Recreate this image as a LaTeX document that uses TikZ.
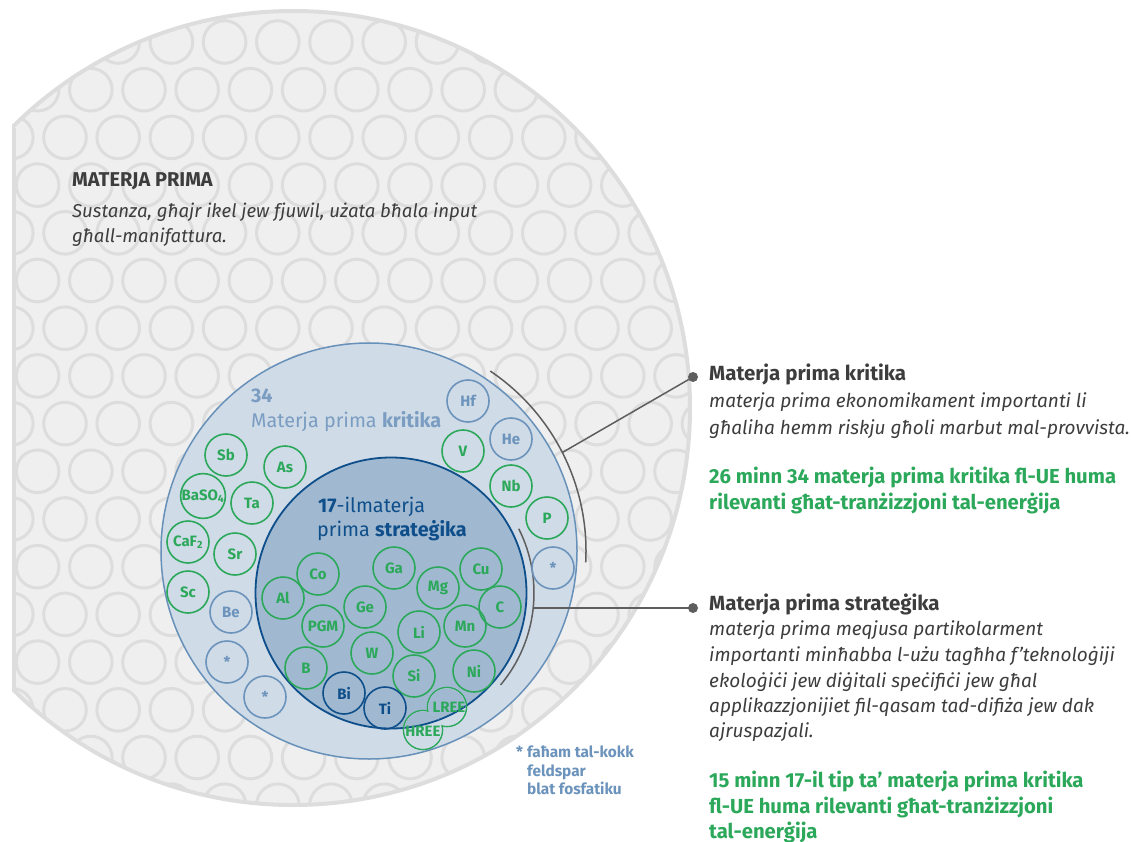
\documentclass[tikz,border=0pt]{standalone}
\usepackage{fontspec}
\setmainfont{Fira Sans}
\usetikzlibrary{calc}
\definecolor{bgfill}{HTML}{EFEFEF}
\definecolor{bgline}{HTML}{DDDDDD}
\definecolor{critfill}{HTML}{CFDBE7}
\definecolor{critline}{HTML}{6891BA}
\definecolor{critlabel}{HTML}{7B9DC2}
\definecolor{stratfill}{HTML}{A0B9D0}
\definecolor{stratline}{HTML}{0E4E8A}
\definecolor{grn}{HTML}{2CA85B}
\definecolor{bluel}{HTML}{6B93BB}
\definecolor{dblue}{HTML}{0E4E8A}
\definecolor{lead}{HTML}{5E5E5E}
\definecolor{txt}{HTML}{3D3D3D}
\tikzset{
  patc/.style={draw=bgline, line width=3pt},
  elem/.style={circle, draw=#1, text=#1, line width=1.6pt, minimum size=42pt, inner sep=0pt,
    font=\bfseries\fontsize{15}{15}\selectfont},
  leader/.style={draw=lead, line width=1.5pt},
  dotn/.style={circle, fill=lead, minimum size=10pt, inner sep=0pt},
  lbl/.style={anchor=base west, inner sep=0pt},
  ttl/.style={lbl, text=txt, font=\bfseries\fontsize{20.5}{20.5}\selectfont},
  body/.style={lbl, text=txt, font=\itshape\fontsize{19}{19}\selectfont},
  gtxt/.style={lbl, text=grn, font=\bfseries\fontsize{20.3}{20.3}\selectfont},
  foot/.style={lbl, text=bluel, font=\bfseries\fontsize{15.4}{15.4}\selectfont},
  inlbl/.style={lbl, font=\fontsize{19.8}{19.8}\selectfont},
}
\begin{document}
\begin{tikzpicture}[x=1pt,y=-1pt]
\useasboundingbox (0,0) rectangle (1131,842);
% big raw-material circle with pattern
\coordinate (bc) at (293,408);
\begin{scope}
  \clip (12,0) rectangle (1131,842);
  \clip (bc) circle (397);
  \fill[bgfill] (0,0) rectangle (1131,842);
  \foreach \k in {0,...,16}{
    \foreach \j in {-1,...,14}{
      \pgfmathsetmacro\px{ifthenelse(mod(\k,2)==0,11.8,37.6)+53.2*\j}
      \pgfmathsetmacro\py{42+47.7*\k}
      \draw[patc] (\px,\py) circle (21.3);
    }
  }
\end{scope}
\begin{scope}
  \clip (12,0) rectangle (1131,842);
  \draw[bgline, line width=4pt] (bc) circle (397);
\end{scope}
\draw[bgline, line width=4pt] (14,127.6) -- (14,688.4);

% critical and strategic circles
\coordinate (cc) at (369,551);
\coordinate (sc) at (391,593);
\draw[critline, fill=critfill, line width=1.5pt] (cc) circle (208);
\draw[stratline, fill=stratfill, line width=1.8pt] (sc) circle (135.5);

% leaders
\draw[leader] (cc) ++(-56:217) arc[start angle=-56, end angle=3, radius=217];
\draw[leader] (sc) ++(-26.7:143) arc[start angle=-26.7, end angle=40, radius=143];
\coordinate (ca) at ($(cc)+(-27:217)$);
\coordinate (sa) at (533.2,608);
\node[dotn] (d1) at (693,377) {};
\node[dotn] (d2) at (693,608) {};
\draw[leader] (ca) -- (d1.center);
\draw[leader] (sa) -- (d2.center);

% labels inside circles
\node[inlbl, text=critlabel] (n34) at (251,402) {\textbf{34}};
\node[inlbl, text=critlabel] (ncrit) at (251,427) {Materja prima \textbf{kritika}};
\node[inlbl, text=dblue] (n17) at (318,512) {\textbf{17}-ilmaterja};
\node[inlbl, text=dblue] (nstrat) at (317,536) {prima \textbf{strateġika}};

% critical ring elements
\node[elem=grn] (Sb) at (226,455) {Sb};
\node[elem=grn] (As) at (285,467) {As};
\node[elem=grn] (BaSO) at (203,496) {BaSO\textsubscript{4}};
\node[elem=grn] (Ta) at (252,503) {Ta};
\node[elem=grn] (CaF) at (188,542) {CaF\textsubscript{2}};
\node[elem=grn] (Sr) at (235,554) {Sr};
\node[elem=grn] (Sc) at (188,592) {Sc};
\node[elem=bluel] (Be) at (231,612) {Be};
\node[elem=bluel] (st1) at (227,662) {*};
\node[elem=bluel] (st2) at (265,697) {*};
\node[elem=bluel] (Hf) at (468,401) {Hf};
\node[elem=grn] (V) at (463,451) {V};
\node[elem=bluel] (He) at (511,439) {He};
\node[elem=grn] (Nb) at (511,486) {Nb};
\node[elem=grn] (P) at (547,518) {P};
\node[elem=bluel] (st3) at (553,568) {*};

% strategic elements
\node[elem=grn] (Co) at (318,574) {Co};
\node[elem=grn] (Ga) at (394,568) {Ga};
\node[elem=grn] (Cu) at (481,569) {Cu};
\node[elem=grn] (Mg) at (438,588) {Mg};
\node[elem=grn] (Al) at (283,598) {Al};
\node[elem=grn] (Ge) at (365,607) {Ge};
\node[elem=grn] (C) at (500,607) {C};
\node[elem=grn] (PGM) at (323,626) {PGM};
\node[elem=grn] (Li) at (419,632) {Li};
\node[elem=grn] (Mn) at (465,626) {Mn};
\node[elem=grn] (W) at (372,653) {W};
\node[elem=grn] (B) at (306,668) {B};
\node[elem=grn] (Si) at (414,676) {Si};
\node[elem=grn] (Ni) at (474,671) {Ni};
\node[elem=dblue] (Bi) at (344,693) {Bi};
\node[elem=dblue] (Ti) at (385,708) {Ti};
% LREE / HREE merged outline
\coordinate (lc) at (447,707);
\coordinate (hc) at (423,730);
\draw[grn, line width=1.6pt] (lc) circle (19.5);
\draw[grn, line width=1.6pt] (hc) circle (19.5);
\foreach \cen in {lc,hc}{
  \begin{scope}
    \clip (\cen) circle (18.7);
    \fill[critfill] (\cen) circle (20);
    \fill[stratfill] (sc) circle (135.5);
    \draw[stratline, line width=1.8pt] (sc) circle (135.5);
  \end{scope}
}
\node[text=grn, font=\bfseries\fontsize{15}{15}\selectfont, inner sep=0pt] (LREE) at (449,707) {LREE};
\node[text=grn, font=\bfseries\fontsize{15}{15}\selectfont, inner sep=0pt] (HREE) at (423,731) {HREE};

% footnote
\node[foot] (fstar) at (516,757) {*};
\node[foot] (f1) at (527,757) {faħam tal-kokk};
\node[foot] (f2) at (527,776) {feldspar};
\node[foot] (f3) at (527,794) {blat fosfatiku};

% top-left text
\node[ttl, font=\bfseries\fontsize{20}{20}\selectfont] (mp) at (72,187) {MATERJA PRIMA};
\node[body, font=\itshape\fontsize{18.6}{18.6}\selectfont] (mp1) at (72,218) {Sustanza, għajr ikel jew fjuwil, użata bħala input};
\node[body, font=\itshape\fontsize{18.6}{18.6}\selectfont] (mp2) at (72,243) {għall-manifattura.};

% right texts
\node[ttl] (kt) at (709,380) {Materja prima kritika};
\node[body] (k1) at (709,407) {materja prima ekonomikament importanti li};
\node[body] (k2) at (709,434) {għaliha hemm riskju għoli marbut mal-provvista.};
\node[gtxt] (k3) at (709,483) {26 minn 34 materja prima kritika fl-UE huma};
\node[gtxt] (k4) at (709,509) {rilevanti għat-tranżizzjoni tal-enerġija};

\node[ttl] (st) at (709,610) {Materja prima strateġika};
\node[body] (s1) at (709,635) {materja prima meqjusa partikolarment};
\node[body] (s2) at (709,661) {importanti minħabba l-użu tagħha f’teknoloġiji};
\node[body] (s3) at (709,687) {ekoloġiċi jew diġitali speċifiċi jew għal};
\node[body] (s4) at (709,712) {applikazzjonijiet fil-qasam tad-difiża jew dak};
\node[body] (s5) at (709,737) {ajruspazjali.};
\node[gtxt] (s6) at (709,787) {15 minn 17-il tip ta’ materja prima kritika};
\node[gtxt] (s7) at (709,813) {fl-UE huma rilevanti għat-tranżizzjoni};
\node[gtxt] (s8) at (709,838) {tal-enerġija};
\end{tikzpicture}
\end{document}
